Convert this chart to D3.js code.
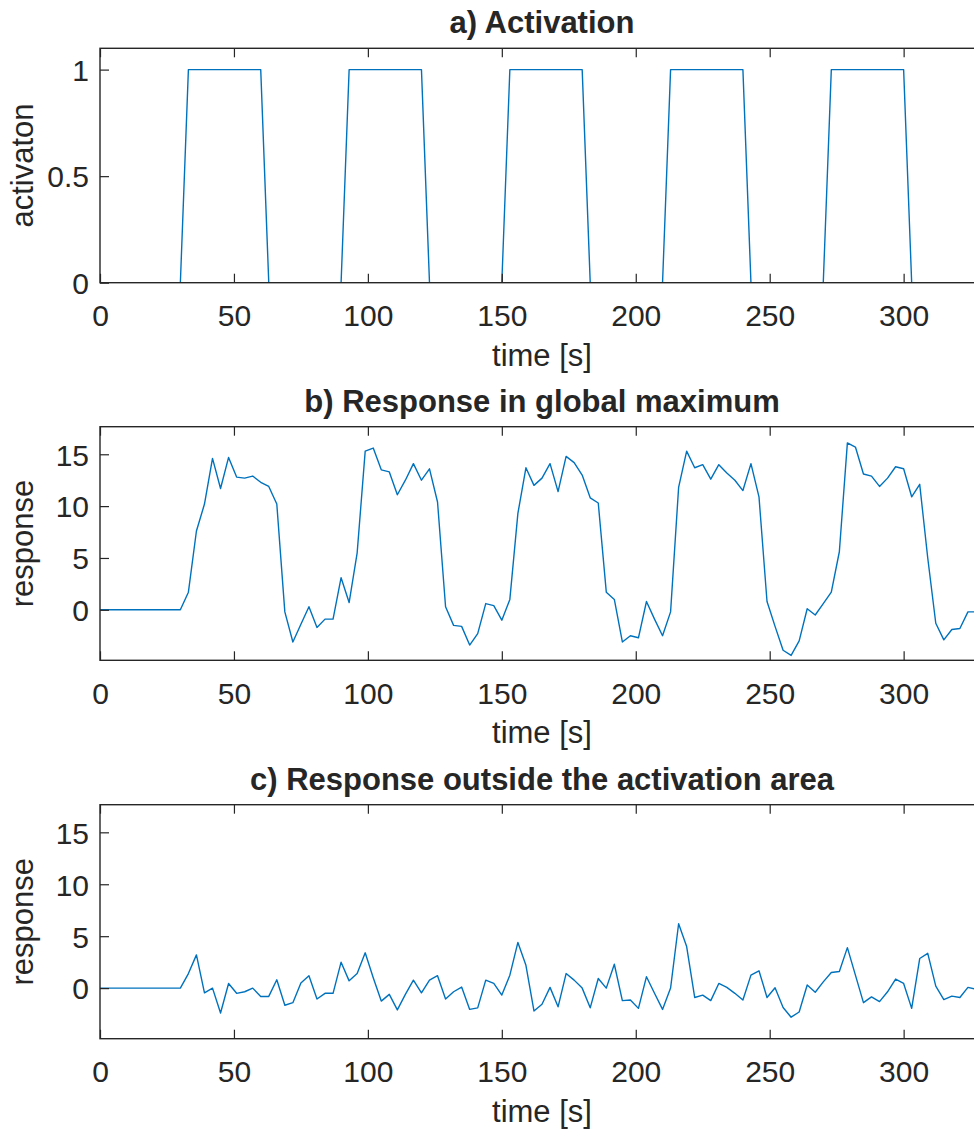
<!DOCTYPE html>
<html>
<head>
<meta charset="utf-8">
<script src="https://cdn.jsdelivr.net/npm/d3@7"></script>
<style>
  html, body { margin: 0; padding: 0; background: #fff; }
  svg { display: block; }
  text { font-family: "Liberation Sans", Arial, Helvetica, sans-serif; fill: #262626; }
</style>
</head>
<body>
<svg id="chart" width="974" height="1129"></svg>
<script>
// ---- data ----
const time = [0,3,6,9,12,15,18,21,24,27,30,33,36,39,42,45,48,51,54,57,60,63,66,69,72,75,78,81,84,87,90,93,96,99,102,105,108,111,114,117,120,123,126,129,132,135,138,141,144,147,150,153,156,159,162,165,168,171,174,177,180,183,186,189,192,195,198,201,204,207,210,213,216,219,222,225,228,231,234,237,240,243,246,249,252,255,258,261,264,267,270,273,276,279,282,285,288,291,294,297,300,303,306,309,312,315,318,321,324,327];

const activation = [0,0,0,0,0,0,0,0,0,0,0,1,1,1,1,1,1,1,1,1,1,0,0,0,0,0,0,0,0,0,0,1,1,1,1,1,1,1,1,1,1,0,0,0,0,0,0,0,0,0,0,1,1,1,1,1,1,1,1,1,1,0,0,0,0,0,0,0,0,0,0,1,1,1,1,1,1,1,1,1,1,0,0,0,0,0,0,0,0,0,0,1,1,1,1,1,1,1,1,1,1,0,0,0,0,0,0,0,0,0];

const responseMax = [0,0,0,0,0,0,0,0,0,0,0,
  1.7,7.6,10.2,14.6,11.7,14.7,12.8,12.7,12.9,12.3,
  11.9,10.2,-0.2,-3.1,-1.4,0.3,-1.7,-0.9,-0.9,3.1,
  0.7,5.5,15.3,15.6,13.5,13.3,11.1,12.5,14.1,12.5,
  13.6,10.4,0.3,-1.5,-1.6,-3.4,-2.3,0.6,0.4,-1.0,
  1.0,9.3,13.7,12.0,12.7,14.1,11.4,14.8,14.2,13.0,
  10.8,10.3,1.7,1.0,-3.1,-2.5,-2.7,0.8,-0.9,-2.5,
  -0.2,11.8,15.3,13.7,14.0,12.6,14.0,13.2,12.5,11.5,
  14.1,10.9,0.8,-1.6,-3.9,-4.4,-3.0,0.1,-0.5,0.6,
  1.7,5.6,16.1,15.7,13.1,12.9,11.9,12.7,13.8,13.6,
  10.9,12.1,5.0,-1.3,-2.9,-1.9,-1.8,-0.2,-0.2];

const responseOutside = [0,0,0,0,0,0,0,0,0,0,0,
  1.4,3.2,-0.45,0.0,-2.4,0.45,-0.5,-0.35,0.0,-0.8,
  -0.8,0.8,-1.65,-1.4,0.5,1.2,-1.05,-0.5,-0.5,2.5,
  0.7,1.4,3.4,1.0,-1.25,-0.6,-2.1,-0.6,0.77,-0.45,
  0.77,1.2,-1.05,-0.35,0.1,-2.05,-1.9,0.77,0.45,-0.67,
  1.25,4.4,2.2,-2.2,-1.55,0.07,-1.8,1.4,0.77,0.0,
  -1.9,0.93,0.0,2.3,-1.2,-1.15,-1.95,1.1,-0.5,-2.05,
  0.0,6.2,4.0,-0.9,-0.67,-1.2,0.45,0.07,-0.5,-1.15,
  1.25,1.67,-0.9,0.03,-1.86,-2.8,-2.3,0.3,-0.4,0.6,
  1.5,1.6,3.9,1.25,-1.4,-0.84,-1.3,-0.35,0.87,0.45,
  -1.95,2.85,3.35,0.2,-1.1,-0.77,-0.9,0.07,-0.1];

const xTicks = [0,50,100,150,200,250,300];
const activationTicks = [0,0.5,1];
const activationTickLabels = ["0","0.5","1"];
const responseTicks = [0,5,10,15];

const titles = ["a) Activation","b) Response in global maximum","c) Response outside the activation area"];
const yLabels = ["activaton","response","response"];
const xLabel = "time [s]";

// ---- layout ----
const svg = d3.select("#chart");
const left = 100, right = 984;
const x = d3.scaleLinear().domain([0, 330]).range([left, right]);
const lineColor = "#0072BD";
const axisColor = "#262626";

const panels = [
  { top: 48.3, bottom: 282.7, domain: [0, 1.1], ticks: activationTicks, fmt: (d,i) => activationTickLabels[i], values: activation },
  { top: 426.7, bottom: 660.3, domain: [-4.87, 17.66], ticks: responseTicks, fmt: d => String(d), values: responseMax },
  { top: 804.7, bottom: 1038.7, domain: [-4.87, 17.66], ticks: responseTicks, fmt: d => String(d), values: responseOutside }
];

panels.forEach((p, k) => {
  const y = d3.scaleLinear().domain(p.domain).range([p.bottom, p.top]);
  const g = svg.append("g");

  const clipId = "clip" + k;
  svg.append("clipPath").attr("id", clipId).append("rect")
    .attr("x", left).attr("y", p.top).attr("width", right - left).attr("height", p.bottom - p.top);

  const line = d3.line().x((d, i) => x(time[i])).y(d => y(d));
  g.append("path")
    .datum(p.values)
    .attr("clip-path", `url(#${clipId})`)
    .attr("fill", "none")
    .attr("stroke", lineColor)
    .attr("stroke-width", 1.4)
    .attr("stroke-linejoin", "round")
    .attr("d", line);

  const ax = g.append("g").attr("transform", `translate(0,${p.bottom})`)
    .call(d3.axisBottom(x).tickValues(xTicks).tickSize(-9).tickPadding(22).tickFormat(d3.format("d")));
  const axTop = g.append("g").attr("transform", `translate(0,${p.top})`)
    .call(d3.axisTop(x).tickValues(xTicks).tickSize(-9).tickFormat(""));
  const ay = g.append("g").attr("transform", `translate(${left},0)`)
    .call(d3.axisLeft(y).tickValues(p.ticks).tickSize(-9).tickPadding(11).tickFormat(p.fmt));

  [ax, axTop, ay].forEach(a => {
    a.select(".domain").remove();
    a.selectAll(".tick line").attr("stroke", axisColor).attr("stroke-width", 1.2);
    a.selectAll(".tick text").attr("font-size", 30).attr("font-family", "Liberation Sans, Arial, sans-serif").attr("fill", axisColor);
  });
  ay.selectAll(".tick text").attr("dy", "0.36em");

  g.append("rect")
    .attr("x", left).attr("y", p.top)
    .attr("width", right - left).attr("height", p.bottom - p.top)
    .attr("fill", "none").attr("stroke", axisColor).attr("stroke-width", 1.4);

  g.append("text")
    .attr("x", (left + right) / 2).attr("y", p.top - 15)
    .attr("text-anchor", "middle")
    .attr("font-size", 31).attr("font-weight", "bold")
    .attr("fill", "#000")
    .text(titles[k]);

  g.append("text")
    .attr("x", (left + right) / 2).attr("y", p.bottom + 83)
    .attr("text-anchor", "middle")
    .attr("font-size", 31)
    .text(xLabel);

  const cy = (p.top + p.bottom) / 2;
  g.append("text")
    .attr("transform", `translate(33,${cy}) rotate(-90)`)
    .attr("text-anchor", "middle")
    .attr("font-size", 31)
    .text(yLabels[k]);
});
</script>
</body>
</html>
